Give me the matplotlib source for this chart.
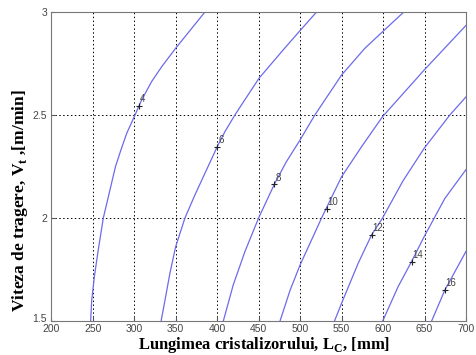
import matplotlib
matplotlib.use("Agg")
import matplotlib.pyplot as plt
import matplotlib.transforms as mtransforms

levels = [4, 6, 8, 10, 12, 14, 16]

L4 = [247.4, 248.8, 252, 256.7, 262.8, 270.8, 277.5, 284, 291, 301, 309, 321, 333.1, 350, 385.3]
V4 = [1.49, 1.60, 1.715, 1.845, 2.0, 2.136, 2.25, 2.33, 2.411, 2.5, 2.573, 2.662, 2.734, 2.824, 3.0]

L6 = [332.0, 337.1, 343.1, 350, 361.2, 373, 385.3, 400.1, 409.4, 421.4, 450.4, 477.7, 500, 519.9]
V6 = [1.49, 1.60, 1.732, 1.861, 2.0, 2.11, 2.217, 2.346, 2.419, 2.5, 2.678, 2.807, 2.91, 3.0]

L8 = [406.8, 419.4, 433.5, 450, 469, 483, 500, 517.8, 550, 578.1, 599.4, 625]
V8 = [1.49, 1.675, 1.837, 2.0, 2.164, 2.27, 2.379, 2.5, 2.694, 2.824, 2.904, 3.0]

L10 = [475.0, 488, 500, 525.9, 531.9, 550, 574.1, 599.4, 649.5, 700]
V10 = [1.49, 1.65, 1.772, 2.0, 2.05, 2.2, 2.346, 2.492, 2.718, 2.935]

L12 = [540.5, 550, 570, 586.1, 599.4, 624, 649.5, 680.5, 700]
V12 = [1.49, 1.586, 1.78, 1.917, 2.0, 2.18, 2.338, 2.5, 2.588]

L14 = [598.5, 618.2, 634.3, 649.5, 674.5, 700]
V14 = [1.49, 1.667, 1.788, 1.909, 2.095, 2.235]

L16 = [657.5, 674.5, 700]
V16 = [1.49, 1.65, 1.838]

curves_L = [L4, L6, L8, L10, L12, L14, L16]
curves_V = [V4, V6, V8, V10, V12, V14, V16]

# contour-label marker positions
lab_L = [305.5, 400.1, 469, 531.9, 586.1, 634.3, 674.5]
lab_V = [2.545, 2.346, 2.164, 2.045, 1.917, 1.788, 1.65]

xticks = [200, 250, 300, 350, 400, 450, 500, 550, 600, 650, 700]
yticks = [1.5, 2, 2.5, 3]
ytick_labels = ["1.5", "2", "2.5", "3"]

fig = plt.figure(figsize=(4.76, 3.55), dpi=100)
ax = fig.add_axes([0.1076, 0.0958, 0.8714, 0.8704])

line_col = (0.42, 0.42, 0.92)
for Ls, Vs in zip(curves_L, curves_V):
    ax.plot(Ls, Vs, color=line_col, lw=0.9)

for lv, xl, yl in zip(levels, lab_L, lab_V):
    ax.plot([xl], [yl], marker="+", color="#222222", ms=5, mew=0.8)
    ax.text(xl + 1.0, yl + 0.008, str(lv), fontsize=7, color="#444444",
            family="Liberation Sans", ha="left", va="bottom")

ax.set_xlim(200, 700)
ax.set_ylim(1.5, 3)
ax.set_xticks(xticks)
ax.set_xticklabels([str(t) for t in xticks])
ax.set_yticks(yticks)
ax.set_yticklabels(ytick_labels)
ax.grid(True, color="black", linestyle=(0, (1.5, 2.5)), linewidth=0.7)
ax.tick_params(direction="in", length=3, labelsize=7.5, colors="#555555",
               labelcolor="#444444")
ax.tick_params(axis="x", pad=2)
ax.tick_params(axis="y", pad=3)
for lab in ax.get_xticklabels() + ax.get_yticklabels():
    lab.set_family("Liberation Sans")
# lift the "1.5" label a touch so it does not sit on "200"
ylabs = ax.get_yticklabels()
ylabs[0].set_transform(ylabs[0].get_transform() +
                       mtransforms.ScaledTranslation(0, 2.5 / 72, fig.dpi_scale_trans))
for s in ax.spines.values():
    s.set_color("#777777")
    s.set_linewidth(0.8)

ax.set_xlabel("Lungimea cristalizorului, L$_\\mathregular{C}$, [mm]",
              family="Liberation Serif", fontweight="bold", fontsize=12)
ax.xaxis.label.set_va("center")
ax.xaxis.set_label_coords(0.514, -0.079)

ax.set_ylabel("Viteza de tragere, V$_\\mathregular{t}$ ,[m/min]",
              family="Liberation Serif", fontweight="bold", fontsize=12.5)
ax.yaxis.label.set_va("center")
ax.yaxis.set_label_coords(-0.075, 0.39)

fig.savefig("out.png", dpi=100)
